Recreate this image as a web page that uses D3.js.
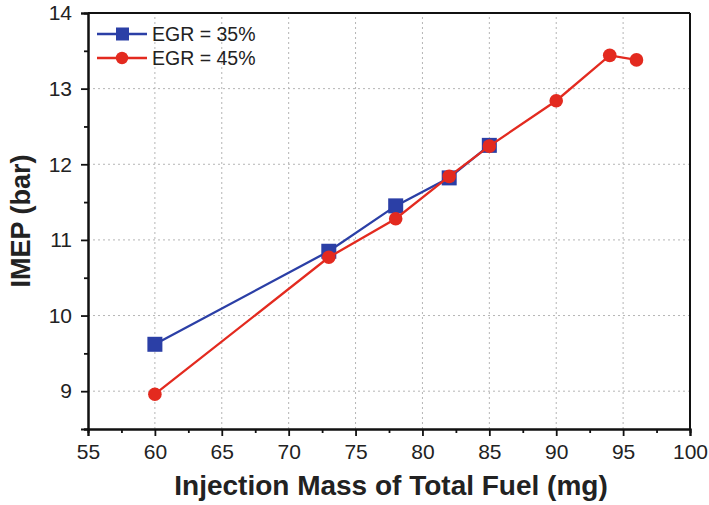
<!DOCTYPE html>
<html>
<head>
<meta charset="utf-8">
<script src="https://cdn.jsdelivr.net/npm/d3@7"></script>
<style>
  html, body { margin: 0; padding: 0; background: #fff; }
  svg { display: block; font-family: "Liberation Sans", Arial, sans-serif; }
</style>
</head>
<body>
<svg id="chart" width="709" height="505"></svg>
<script>
// Injection mass (mg) and IMEP (bar) for the two EGR rates
const fuel35 = [60, 73, 78, 82, 85];
const imep35 = [9.62, 10.85, 11.45, 11.82, 12.25];
const fuel45 = [60, 73, 78, 82, 85, 90, 94, 96];
const imep45 = [8.96, 10.77, 11.28, 11.84, 12.24, 12.84, 13.44, 13.38];
const seriesNames = ["EGR = 35%", "EGR = 45%"];
const xTicks = [55, 60, 65, 70, 75, 80, 85, 90, 95, 100];
const yTicks = [9, 10, 11, 12, 13, 14];

const colors = ["#2b3fa6", "#e32a1f"];
const svg = d3.select("#chart");
const m = { left: 88, right: 19, top: 13, bottom: 76 };
const W = 709, H = 505;

const x = d3.scaleLinear().domain([55, 100]).range([m.left, W - m.right]);
const y = d3.scaleLinear().domain([8.5, 14]).range([H - m.bottom, m.top]);

// dotted grid at major ticks
const grid = svg.append("g").attr("stroke", "#b5b5b5").attr("stroke-width", 1).attr("stroke-dasharray", "2,3");
xTicks.filter(v => v > 55 && v < 100).forEach(v => {
  grid.append("line").attr("x1", x(v)).attr("x2", x(v)).attr("y1", y(8.5)).attr("y2", y(14));
});
yTicks.filter(v => v < 14).forEach(v => {
  grid.append("line").attr("x1", x(55)).attr("x2", x(100)).attr("y1", y(v)).attr("y2", y(v));
});

// axes
const fmt = d3.format("d");
const xAxis = d3.axisBottom(x).tickValues(xTicks).tickFormat(fmt).tickSize(7).tickPadding(8);
const xMinor = d3.axisBottom(x).tickValues(d3.range(57.5, 100, 5)).tickSize(4).tickFormat("");
const yAxis = d3.axisLeft(y).tickValues(yTicks).tickFormat(fmt).tickSize(7).tickPadding(9);
const yMinor = d3.axisLeft(y).tickValues(d3.range(8.5, 14, 0.5).filter(v => v % 1 !== 0)).tickSize(4).tickFormat("");

function styleAxis(g) {
  g.selectAll("path").attr("stroke", "#111").attr("stroke-width", 2);
  g.selectAll("line").attr("stroke", "#111").attr("stroke-width", 1.8);
  g.selectAll("text").attr("fill", "#222").attr("font-size", 21);
}
svg.append("g").attr("transform", `translate(0,${y(8.5)})`).call(xAxis).call(styleAxis);
svg.append("g").attr("transform", `translate(0,${y(8.5)})`).call(xMinor).call(styleAxis);
svg.append("g").attr("transform", `translate(${x(55)},0)`).call(yAxis).call(styleAxis);
svg.append("g").attr("transform", `translate(${x(55)},0)`).call(yMinor).call(styleAxis);

// frame top and right
svg.append("line").attr("x1", x(55)).attr("x2", x(100)).attr("y1", y(14)).attr("y2", y(14))
  .attr("stroke", "#111").attr("stroke-width", 2);
svg.append("line").attr("x1", x(100)).attr("x2", x(100)).attr("y1", y(14)).attr("y2", y(8.5))
  .attr("stroke", "#111").attr("stroke-width", 2);

// axis titles
svg.append("text").attr("x", (x(55) + x(100)) / 2 + 2).attr("y", 495)
  .attr("text-anchor", "middle").attr("font-weight", "bold").attr("font-size", 28).attr("fill", "#222")
  .text("Injection Mass of Total Fuel (mg)");
svg.append("text").attr("transform", `translate(30,${(y(8.5) + y(14)) / 2}) rotate(-90)`)
  .attr("text-anchor", "middle").attr("font-weight", "bold").attr("font-size", 27).attr("fill", "#222")
  .text("IMEP (bar)");

// series
const line = d3.line().x(d => x(d[0])).y(d => y(d[1]));
const d35 = fuel35.map((f, i) => [f, imep35[i]]);
const d45 = fuel45.map((f, i) => [f, imep45[i]]);

svg.append("path").datum(d35).attr("d", line).attr("fill", "none").attr("stroke", colors[0]).attr("stroke-width", 2.3);
svg.selectAll(".sq").data(d35).join("rect")
  .attr("x", d => x(d[0]) - 7.5).attr("y", d => y(d[1]) - 7.5)
  .attr("width", 15).attr("height", 15).attr("fill", colors[0]);

svg.append("path").datum(d45).attr("d", line).attr("fill", "none").attr("stroke", colors[1]).attr("stroke-width", 2.3);
svg.selectAll(".ci").data(d45).join("circle")
  .attr("cx", d => x(d[0])).attr("cy", d => y(d[1])).attr("r", 6.8).attr("fill", colors[1]);

// legend
const leg = svg.append("g");
[0, 1].forEach(i => {
  const ly = 34 + i * 24;
  leg.append("line").attr("x1", 97).attr("x2", 147).attr("y1", ly).attr("y2", ly)
    .attr("stroke", colors[i]).attr("stroke-width", 2.3);
  if (i === 0) {
    leg.append("rect").attr("x", 116).attr("y", ly - 6.5).attr("width", 13).attr("height", 13).attr("fill", colors[i]);
  } else {
    leg.append("circle").attr("cx", 122).attr("cy", ly).attr("r", 6.2).attr("fill", colors[i]);
  }
  leg.append("text").attr("x", 152).attr("y", ly + 7).attr("font-size", 19.5).attr("fill", "#222").text(seriesNames[i]);
});
</script>
</body>
</html>
